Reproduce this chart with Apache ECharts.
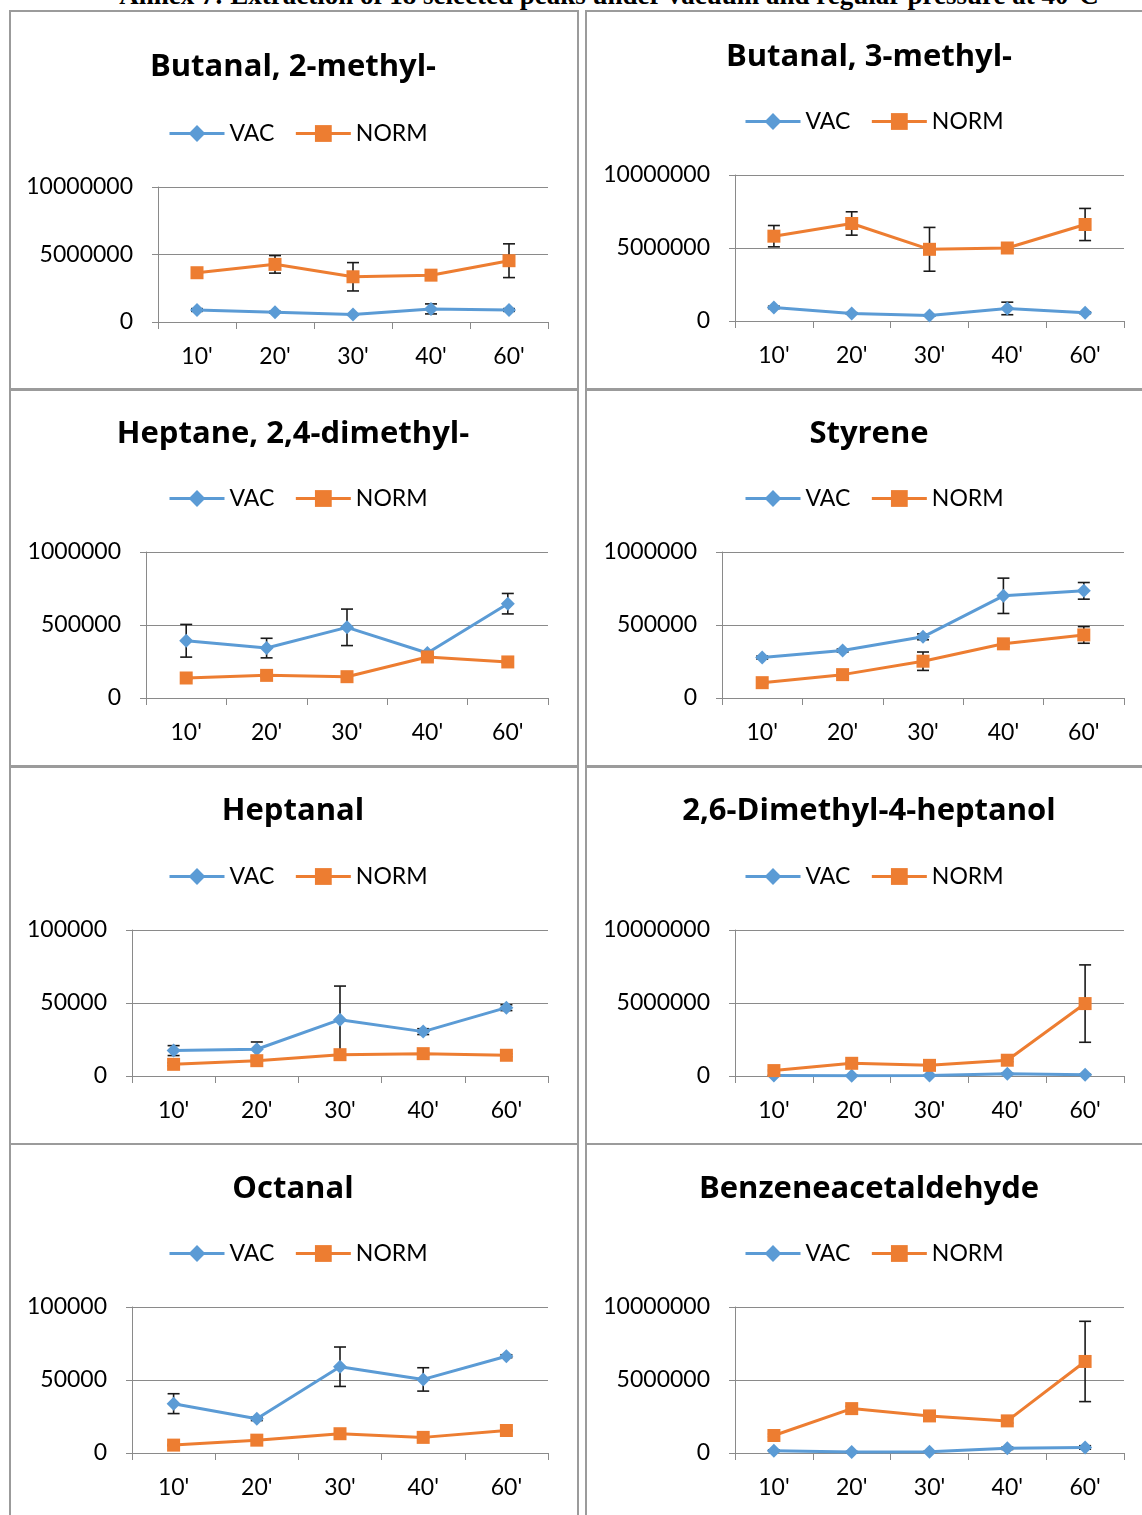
<!DOCTYPE html>
<html>
<head>
<meta charset="utf-8">
<script src="https://cdn.jsdelivr.net/npm/echarts@6/dist/echarts.min.js"></script>
<style>
  html, body { margin: 0; padding: 0; background: #fff; }
  body { width: 1142px; height: 1515px; overflow: hidden; position: relative; }
  .cell { position: absolute; border: 2px solid #9b9b9b; box-sizing: border-box; }
  #head {
    position: absolute; top: -16px; left: 0; width: 1218px; text-align: center;
    font: bold 27px "Liberation Serif", "Times New Roman", serif; line-height: 23px;
    white-space: nowrap; color: #000;
  }
  #chart { position: absolute; left: 0; top: 0; width: 1142px; height: 1515px; }
</style>
</head>
<body>
<div id="head">Annex 7: Extraction of 18 selected peaks under vacuum and regular pressure at 40°C</div>
<div class="cell" style="left:9px;top:10px;width:570px;height:380px"></div>
<div class="cell" style="left:585px;top:10px;width:570px;height:380px"></div>
<div class="cell" style="left:9px;top:389px;width:570px;height:378px"></div>
<div class="cell" style="left:585px;top:389px;width:570px;height:378px"></div>
<div class="cell" style="left:9px;top:766px;width:570px;height:379px"></div>
<div class="cell" style="left:585px;top:766px;width:570px;height:379px"></div>
<div class="cell" style="left:9px;top:1143px;width:570px;height:380px"></div>
<div class="cell" style="left:585px;top:1143px;width:570px;height:380px"></div>
<div id="chart"></div>
<script>
// Sampling times
const times = ["10'", "20'", "30'", "40'", "60'"];

// Butanal, 2-methyl-
const butanal2Vac = [890000, 720000, 550000, 970000, 890000];
const butanal2VacErr = [100000, 60000, 50000, 370000, 100000];
const butanal2Norm = [3650000, 4270000, 3350000, 3470000, 4540000];
const butanal2NormErr = [150000, 650000, 1050000, 100000, 1250000];

// Butanal, 3-methyl-
const butanal3Vac = [930000, 520000, 380000, 860000, 570000];
const butanal3VacErr = [80000, 50000, 40000, 430000, 60000];
const butanal3Norm = [5810000, 6680000, 4910000, 5000000, 6610000];
const butanal3NormErr = [730000, 800000, 1500000, 150000, 1100000];

// Heptane, 2,4-dimethyl-
const heptaneVac = [392000, 342000, 484000, 308000, 646000];
const heptaneVacErr = [112000, 67000, 125000, 15000, 70000];
const heptaneNorm = [137000, 155000, 146000, 281000, 247000];
const heptaneNormErr = [10000, 10000, 10000, 15000, 10000];

// Styrene
const styreneVac = [277000, 325000, 419000, 700000, 734000];
const styreneVacErr = [10000, 10000, 20000, 121000, 57000];
const styreneNorm = [105000, 160000, 252000, 371000, 432000];
const styreneNormErr = [10000, 15000, 63000, 20000, 57000];

// Heptanal
const heptanalVac = [17400, 18300, 38600, 30400, 46800];
const heptanalVacErr = [3400, 5000, 23000, 2000, 2000];
const heptanalNorm = [8000, 10500, 14600, 15300, 14200];
const heptanalNormErr = [1000, 1000, 1000, 1000, 1000];

// 2,6-Dimethyl-4-heptanol
const heptanolVac = [30000, 20000, 40000, 150000, 90000];
const heptanolVacErr = [20000, 20000, 20000, 40000, 30000];
const heptanolNorm = [370000, 870000, 730000, 1080000, 4960000];
const heptanolNormErr = [50000, 80000, 80000, 100000, 2650000];

// Octanal
const octanalVac = [33800, 23400, 59100, 50400, 66300];
const octanalVacErr = [6800, 1200, 13500, 8000, 1000];
const octanalNorm = [5400, 8800, 13200, 10700, 15400];
const octanalNormErr = [500, 500, 500, 500, 500];

// Benzeneacetaldehyde
const benzeneVac = [160000, 70000, 90000, 320000, 380000];
const benzeneVacErr = [50000, 30000, 30000, 80000, 120000];
const benzeneNorm = [1200000, 3040000, 2540000, 2200000, 6270000];
const benzeneNormErr = [100000, 150000, 150000, 150000, 2750000];

// Axis ranges per compound
const axisMax = [10000000, 10000000, 1000000, 1000000, 100000, 10000000, 100000, 10000000];

const panels = [
  { title: 'Butanal, 2-methyl-', vac: butanal2Vac, vacErr: butanal2VacErr, norm: butanal2Norm, normErr: butanal2NormErr,
    grid: [158, 187, 390, 135], titleY: 67, legendY: 133, cx: 293, legendX: 168 },
  { title: 'Butanal, 3-methyl-', vac: butanal3Vac, vacErr: butanal3VacErr, norm: butanal3Norm, normErr: butanal3NormErr,
    grid: [735, 175, 389, 146], titleY: 57, legendY: 121, cx: 869, legendX: 744 },
  { title: 'Heptane, 2,4-dimethyl-', vac: heptaneVac, vacErr: heptaneVacErr, norm: heptaneNorm, normErr: heptaneNormErr,
    grid: [146, 552, 402, 146], titleY: 434, legendY: 498, cx: 293, legendX: 168 },
  { title: 'Styrene', vac: styreneVac, vacErr: styreneVacErr, norm: styreneNorm, normErr: styreneNormErr,
    grid: [722, 552, 402, 146], titleY: 434, legendY: 498, cx: 869, legendX: 744 },
  { title: 'Heptanal', vac: heptanalVac, vacErr: heptanalVacErr, norm: heptanalNorm, normErr: heptanalNormErr,
    grid: [132, 930, 416, 146], titleY: 811, legendY: 876, cx: 293, legendX: 168 },
  { title: '2,6-Dimethyl-4-heptanol', vac: heptanolVac, vacErr: heptanolVacErr, norm: heptanolNorm, normErr: heptanolNormErr,
    grid: [735, 930, 389, 146], titleY: 811, legendY: 876, cx: 869, legendX: 744 },
  { title: 'Octanal', vac: octanalVac, vacErr: octanalVacErr, norm: octanalNorm, normErr: octanalNormErr,
    grid: [132, 1307, 416, 146], titleY: 1189, legendY: 1253, cx: 293, legendX: 168 },
  { title: 'Benzeneacetaldehyde', vac: benzeneVac, vacErr: benzeneVacErr, norm: benzeneNorm, normErr: benzeneNormErr,
    grid: [735, 1307, 389, 146], titleY: 1189, legendY: 1253, cx: 869, legendX: 744 }
];

const FONT = 'Lato, "Open Sans", sans-serif';
const TITLE_FONT = '"Open Sans", Lato, sans-serif';
const AXIS_GREY = '#8a8a8a';
const VAC_COLOR = '#5b9bd5';
const NORM_COLOR = '#ed7d31';

// Vertical error bar with caps, centred on the category
function errorBar(params, api) {
  const x = api.value(0), v = api.value(1), e = api.value(2);
  const top = api.coord([x, v + e]);
  const bot = api.coord([x, v - e]);
  const hw = 6;
  const style = { stroke: '#1a1a1a', lineWidth: 1.6 };
  return {
    type: 'group',
    children: [
      { type: 'line', shape: { x1: top[0], y1: top[1], x2: bot[0], y2: bot[1] }, style: style },
      { type: 'line', shape: { x1: top[0] - hw, y1: top[1], x2: top[0] + hw, y2: top[1] }, style: style },
      { type: 'line', shape: { x1: bot[0] - hw, y1: bot[1], x2: bot[0] + hw, y2: bot[1] }, style: style }
    ]
  };
}

const grids = [], xAxes = [], yAxes = [], series = [], legends = [], graphics = [];

panels.forEach(function (p, i) {
  grids.push({ left: p.grid[0], top: p.grid[1], width: p.grid[2], height: p.grid[3], containLabel: false });
  xAxes.push({
    type: 'category', gridIndex: i, data: times, boundaryGap: true,
    axisLine: { lineStyle: { color: AXIS_GREY, width: 1 } },
    axisTick: { show: true, length: 7, lineStyle: { color: AXIS_GREY } },
    axisLabel: { color: '#000', fontFamily: FONT, fontSize: 23, margin: 23 }
  });
  yAxes.push({
    type: 'value', gridIndex: i, min: 0, max: axisMax[i], interval: axisMax[i] / 2,
    axisLine: { show: true, lineStyle: { color: AXIS_GREY, width: 1 } },
    axisTick: { show: true, length: 6, lineStyle: { color: AXIS_GREY } },
    splitLine: { show: true, lineStyle: { color: AXIS_GREY, width: 1 } },
    axisLabel: {
      color: '#000', fontFamily: FONT, fontSize: 23, margin: 25,
      formatter: function (v) { return String(v); }
    }
  });

  const vacBars = p.vac.map(function (v, k) { return [k, v, p.vacErr[k]]; });
  const normBars = p.norm.map(function (v, k) { return [k, v, p.normErr[k]]; });

  series.push({
    type: 'custom', xAxisIndex: i, yAxisIndex: i, renderItem: errorBar,
    data: vacBars, encode: { x: 0, y: 1 }, z: 1, silent: true
  });
  series.push({
    type: 'custom', xAxisIndex: i, yAxisIndex: i, renderItem: errorBar,
    data: normBars, encode: { x: 0, y: 1 }, z: 1, silent: true
  });
  series.push({
    name: 'VAC', type: 'line', xAxisIndex: i, yAxisIndex: i, data: p.vac,
    symbol: 'diamond', symbolSize: 14, showAllSymbol: true,
    lineStyle: { color: VAC_COLOR, width: 3 }, itemStyle: { color: VAC_COLOR }, z: 3
  });
  series.push({
    name: 'NORM', type: 'line', xAxisIndex: i, yAxisIndex: i, data: p.norm,
    symbol: 'rect', symbolSize: 13, showAllSymbol: true,
    lineStyle: { color: NORM_COLOR, width: 3 }, itemStyle: { color: NORM_COLOR }, z: 3
  });

  legends.push({
    data: ['VAC', 'NORM'], left: p.legendX, top: p.legendY - 11, padding: 0,
    itemWidth: 55, itemHeight: 21, itemGap: 20, selectedMode: false,
    lineStyle: { width: 3 },
    textStyle: { color: '#000', fontFamily: FONT, fontSize: 23, padding: [0, 0, 0, 0] }
  });

  graphics.push({
    type: 'text', x: p.cx, y: p.titleY,
    style: {
      text: p.title, fill: '#000', font: 'bold 31px ' + TITLE_FONT,
      align: 'center', verticalAlign: 'middle', textAlign: 'center', textVerticalAlign: 'middle'
    }
  });
});

const chart = echarts.init(document.getElementById('chart'), null, { renderer: 'canvas' });
chart.setOption({
  animation: false,
  grid: grids,
  xAxis: xAxes,
  yAxis: yAxes,
  legend: legends,
  graphic: graphics,
  series: series
});
</script>
</body>
</html>
